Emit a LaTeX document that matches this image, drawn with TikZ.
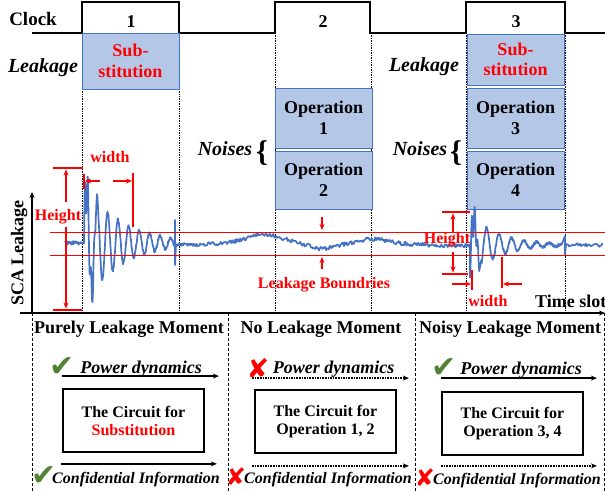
\documentclass[tikz,border=0pt]{standalone}
\usepackage{fontspec}
\setmainfont{Liberation Serif}
\newfontfamily\markfont{DejaVu Sans}
\usetikzlibrary{arrows.meta}

\definecolor{boxfill}{HTML}{B4C7E7}
\definecolor{boxedge}{HTML}{4472C4}
\definecolor{sigblue}{HTML}{4472C4}
\definecolor{okgreen}{HTML}{548235}
\definecolor{alarm}{HTML}{FF0000}

\tikzset{
  slotbox/.style={draw=boxedge, fill=boxfill, line width=0.8pt, minimum width=97pt,
    inner sep=0pt, align=center, font=\bfseries\fontsize{18}{20.5}\selectfont},
  circuitbox/.style={draw, line width=1.8pt, minimum width=141pt, minimum height=63pt,
    inner sep=0pt, align=center, font=\bfseries\fontsize{16}{18}\selectfont},
  lbl/.style={font=\bfseries\fontsize{18}{20}\selectfont, anchor=base, inner sep=0pt},
  ilbl/.style={font=\bfseries\itshape\fontsize{20}{22}\selectfont, anchor=base, inner sep=0pt},
  plbl/.style={font=\bfseries\itshape\fontsize{18}{20}\selectfont, anchor=base, inner sep=0pt},
  clbl/.style={font=\bfseries\itshape\fontsize{16}{18}\selectfont, anchor=base, inner sep=0pt},
  redlbl/.style={font=\bfseries\fontsize{16}{18}\selectfont, text=alarm, anchor=base, inner sep=0pt},
  okmark/.style={font=\markfont\fontsize{30}{30}\selectfont, text=okgreen, inner sep=0pt},
  nomark/.style={font=\markfont\fontsize{27}{27}\selectfont, text=alarm, inner sep=0pt},
  guide/.style={densely dotted, line width=0.7pt},
  divider/.style={dash pattern=on 3pt off 2pt, line width=0.7pt},
  measure/.style={alarm, line width=1.3pt},
  flow/.style={line width=1.4pt, ->},
  noflow/.style={line width=1.6pt, densely dotted, ->},
}

\begin{document}
\begin{tikzpicture}[x=1pt,y=-1pt,>={Stealth[length=6pt,width=5pt]}]
  \useasboundingbox (0,0) rectangle (605,492);

  % clock
  \draw[line width=1.4pt] (32,33) -- (82,33) |- (179,2) |- (275,33) |- (370,2)
    |- (466,33) |- (565,2) |- (605,33);
  \node[lbl,font=\bfseries\fontsize{19}{20}\selectfont] (clock) at (33,26) {Clock};
  \node[lbl] (tick1) at (131,28) {1};
  \node[lbl] (tick2) at (323,28) {2};
  \node[lbl] (tick3) at (516,28) {3};

  \foreach \xg in {82,179,275,371,466,565}
    \draw[guide] (\xg,33) -- (\xg,313);

  % slot boxes
  \node[slotbox, minimum height=56pt, text=alarm] (sub1) at (130.5,61) {Sub-\\stitution};
  \node[slotbox, minimum height=60pt] (op1) at (323.5,118) {Operation\\1};
  \node[slotbox, minimum height=58pt] (op2) at (323.5,180) {Operation\\2};
  \node[slotbox, minimum height=51pt, text=alarm] (sub3) at (515.5,59.5) {Sub-\\stitution};
  \node[slotbox, minimum height=60pt] (op3) at (515.5,118) {Operation\\3};
  \node[slotbox, minimum height=58pt] (op4) at (515.5,180) {Operation\\4};

  \node[ilbl] (leak1) at (43,73) {Leakage};
  \node[ilbl] (leak3) at (424,72) {Leakage};
  \node[ilbl] (noise2) at (225,155) {Noises};
  \node[ilbl] (noise3) at (420,155) {Noises};
  \node[font=\bfseries\fontsize{30}{30}\selectfont, inner sep=0pt] (brace2) at (262,153) {\{};
  \node[font=\bfseries\fontsize{30}{30}\selectfont, inner sep=0pt] (brace3) at (456,153) {\{};

  % axes
  \draw[line width=1.2pt,->] (20,313) -- (605,313);
  \draw[line width=1.2pt,->] (32,313) -- (32,192);
  \node[rotate=90, font=\bfseries\fontsize{18}{20}\selectfont] (ylab) at (19,253) {SCA Leakage};
  \node[lbl, anchor=base west] (xlab) at (535,307) {Time slot};

  % trace
  \pgfmathsetseed{17}
  \draw[sigblue, line width=1.7pt, line join=round]
    plot[domain=65:84, samples=40] (\x,{243+1.8*rand})
    -- plot[domain=84:175, samples=280] (\x,{243-62*exp(-(\x-84)/35)*sin((\x-84)/10.5*360)
         -32*max(0,1-(\x-84)/16)*sin((\x-84)/3.1*360)+1.5*rand})
    -- (175,220) -- (175,265) -- (176,245)
    -- plot[domain=176:470, samples=330] (\x,{246-12/(1+((\x-265)/25)^2)
         +6/(1+((\x-322)/15)^2)-7/(1+((\x-372)/22)^2)+2*rand})
    -- plot[domain=470:562, samples=260] (\x,{245-30*exp(-(\x-471)/28)*sin((\x-471)/12.5*360)
         -20*max(0,1-(\x-471)/12)*sin((\x-471)/3*360)+1.5*rand})
    -- (565,236) -- (565,254) -- (566,245)
    -- plot[domain=566:603, samples=40] (\x,{245+1.8*rand});

  % leakage boundries
  \draw[alarm, line width=1pt] (50,232) -- (605,232);
  \draw[alarm, line width=1pt] (50,255) -- (605,255);
  \draw[measure,->] (322,217) -- (322,230);
  \draw[measure,->] (322,269) -- (322,257);
  \node[redlbl] (bound) at (324,288) {Leakage Boundries};

  % left height and width
  \draw[measure] (53,168) -- (83,168);
  \draw[measure] (53,310) -- (82,310);
  \draw[measure,->] (66,202) -- (66,169.5);
  \draw[measure,->] (66,227) -- (66,308.5);
  \node[redlbl] (h1) at (58,220) {Height};
  \draw[measure] (84,174) -- (84,189);
  \draw[measure] (133,173) -- (133,227);
  \draw[measure,->] (100,181) -- (85,181);
  \draw[measure,->] (113,181) -- (132,181);
  \node[redlbl] (w1) at (110,163) {width};

  % right height and width
  \draw[measure] (442,212) -- (470,212);
  \draw[measure] (442,274) -- (468,274);
  \draw[measure,->] (453,232) -- (453,213.5);
  \draw[measure,->] (453,252) -- (453,272.5);
  \node[redlbl] (h3) at (447,243) {Height};
  \draw[measure] (472,270) -- (472,290);
  \draw[measure] (502,257) -- (502,288);
  \draw[measure,->] (452,284) -- (471,284);
  \draw[measure,->] (522,284) -- (503,284);
  \node[redlbl] (w3) at (488,306) {width};

  % moments
  \foreach \xd in {32,228,415,604}
    \draw[divider] (\xd,313) -- (\xd,492);
  \node[lbl] (m1) at (129,333) {Purely Leakage Moment};
  \node[lbl] (m2) at (321,333) {No Leakage Moment};
  \node[lbl] (m3) at (510,333) {Noisy Leakage Moment};

  \node[circuitbox] (circ1) at (133.5,420.5) {The Circuit for\\\textcolor{alarm}{Substitution}};
  \node[circuitbox] (circ2) at (325.5,421.5) {The Circuit for\\Operation 1, 2};
  \node[circuitbox] (circ3) at (512.5,423.5) {The Circuit for\\Operation 3, 4};

  \draw[flow] ([yshift=12pt]circ1.north west) -- ([shift={(14pt,12pt)}]circ1.north east);
  \draw[flow] ([shift={(-1pt,-11pt)}]circ1.south west) -- ([shift={(12pt,-11pt)}]circ1.south east);
  \draw[noflow] ([shift={(-2pt,11pt)}]circ2.north west) -- ([shift={(12pt,11pt)}]circ2.north east);
  \draw[noflow] ([shift={(-2pt,-12pt)}]circ2.south west) -- ([shift={(12pt,-12pt)}]circ2.south east);
  \draw[flow] ([yshift=13pt]circ3.north west) -- ([shift={(13pt,13pt)}]circ3.north east);
  \draw[noflow] ([yshift=-10pt]circ3.south west) -- ([shift={(13pt,-10pt)}]circ3.south east);

  \node[okmark] (ok1) at (62,367) {✔};
  \node[plbl] (pd1) at (141,373) {Power dynamics};
  \node[nomark] (no2) at (258,369) {✘};
  \node[plbl] (pd2) at (333.5,373) {Power dynamics};
  \node[okmark] (ok3) at (444,368) {✔};
  \node[plbl] (pd3) at (521,374) {Power dynamics};

  \node[okmark] (ok1c) at (44,476) {✔};
  \node[clbl] (ci1) at (136,483) {Confidential Information};
  \node[nomark,font=\markfont\fontsize{24}{24}\selectfont] (no2c) at (236,477) {✘};
  \node[clbl] (ci2) at (328,483) {Confidential Information};
  \node[nomark,font=\markfont\fontsize{24}{24}\selectfont] (no3c) at (425,478) {✘};
  \node[clbl] (ci3) at (517,484) {Confidential Information};
\end{tikzpicture}
\end{document}
